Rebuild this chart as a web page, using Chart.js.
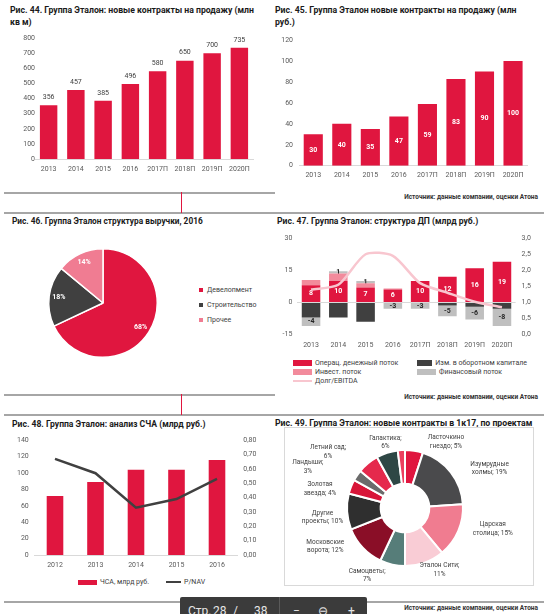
<!DOCTYPE html>
<html lang="ru">
<head>
<meta charset="utf-8">
<script src="https://cdn.jsdelivr.net/npm/chart.js@4.4.0/dist/chart.umd.min.js"></script>
<style>
  body { margin: 0; background: #fff; }
  #page { position: relative; width: 550px; height: 614px; overflow: hidden; background: #fff; font-family: Roboto, sans-serif; }
  canvas { position: absolute; }
  .title { position: absolute; font-size: 8.5px; font-weight: 700; line-height: 12px; color: #1a1a1a; white-space: nowrap; }
  .src { position: absolute; right: 12px; font-size: 6.5px; font-weight: 700; color: #333; white-space: nowrap; }
  .rule { position: absolute; height: 1.5px; background: #a6a6a6; }
  .red { position: absolute; width: 1px; background: #e0163f; }
  .frame { position: absolute; border: 1px solid #d9d9d9; }
  .legend { position: absolute; font-size: 7px; color: #404040; }
  .legend .item { display: flex; align-items: center; white-space: nowrap; }
  .legend .mark { display: inline-block; margin-right: 3px; }
  #toolbar { position: absolute; left: 180px; top: 597px; width: 187px; height: 20px; background: #3b3b3b; border-radius: 2px; color: #e6e6e6; font-size: 12px; }
  #toolbar span { position: absolute; top: 7px; }
  #toolbar .sep { top: 0; width: 1px; height: 20px; background: #5a5a5a; }
</style>
</head>
<body>
<div id="page">
  <div class="title" style="left:10px;top:4px;font-size:8.7px">Рис. 44. Группа Эталон: новые контракты на продажу (млн<br>кв м)</div>
  <div class="title" style="left:275px;top:4px;font-size:8.7px">Рис. 45. Группа Эталон новые контракты на продажу (млн<br>руб.)</div>
  <div class="title" style="left:12px;top:215px;font-size:8.3px">Рис. 46. Группа Эталон структура выручки, 2016</div>
  <div class="title" style="left:277px;top:215px;font-size:8.6px">Рис. 47. Группа Эталон: структура ДП (млрд руб.)</div>
  <div class="title" style="left:12px;top:418px;font-size:8.6px">Рис. 48. Группа Эталон: анализ СЧА (млрд руб.)</div>
  <div class="title" style="left:275px;top:417px;font-size:8.7px">Рис. 49. Группа Эталон: новые контракты в 1к17, по проектам</div>

  <div class="src" style="top:193px">Источник: данные компании, оценки Атона</div>
  <div class="src" style="top:393px">Источник: данные компании, оценки Атона</div>
  <div class="src" style="top:604px">Источник: данные компании, оценки Атона</div>

  <div class="rule" style="left:4px;top:192px;width:271px"></div>
  <div class="rule" style="left:4px;top:212px;width:540px"></div>
  <div class="rule" style="left:4px;top:394px;width:271px"></div>
  <div class="rule" style="left:4px;top:414px;width:540px"></div>
  <div class="rule" style="left:4px;top:601px;width:540px"></div>
  <div class="red" style="left:181px;top:192px;height:21px"></div>
  <div class="red" style="left:181px;top:394px;height:21px"></div>

  <div class="frame" style="left:284px;top:427px;width:248px;height:157px"></div>

  <canvas id="c44" width="270" height="160" style="left:0;top:30px"></canvas>
  <canvas id="c45" width="275" height="160" style="left:275px;top:30px"></canvas>
  <canvas id="c46" width="126" height="126" style="left:40px;top:240px"></canvas>
  <canvas id="c47" width="275" height="125" style="left:275px;top:228px"></canvas>
  <canvas id="c48" width="270" height="145" style="left:0;top:430px"></canvas>
  <canvas id="c49" width="249" height="157" style="left:284px;top:428px"></canvas>

  <div class="legend" id="lg46" style="left:199px;top:283px"></div>
  <div class="legend" id="lg47" style="left:293px;top:358px"></div>
  <div class="legend" id="lg48" style="left:78px;top:578px"></div>

  <div id="toolbar">
    <span style="left:8px">Стр.</span>
    <span style="left:33px">28</span>
    <span style="left:53px">/</span>
    <span style="left:74px">38</span>
    <span class="sep" style="left:99px"></span>
    <span style="left:113px">−</span>
    <span style="left:138px">⊖</span>
    <span style="left:168px">+</span>
  </div>
</div>

<script>
// ---- data ----
const salesYears = ['2013', '2014', '2015', '2016', '2017П', '2018П', '2019П', '2020П'];
const salesArea = [356, 457, 385, 496, 580, 650, 700, 735];
const salesRub = [30, 40, 35, 47, 59, 83, 90, 100];

const revenueSegments = ['Девелопмент', 'Строительство', 'Прочее'];
const revenueShares = [68, 18, 14];

const cfYears = ['2013', '2014', '2015', '2016', '2017П', '2018П', '2019П', '2020П'];
const cfOperating = [8, 10, 7, 6, 10, 12, 16, 19];
const cfWorkingCapital = [-7, -7, -9, 0, 0, -1.5, -2, -3];
const cfInvesting = [2.5, 3.5, 2, 0.5, 0, 0, 0, 0];
const cfFinancing = [-4, 1, 1, -3, -3, -5, -6, -8];
const debtToEbitda = [1.4, 1.55, 2.5, 2.45, 1.6, 1.3, 1.02, 0.85];

const navYears = ['2012', '2013', '2014', '2015', '2016'];
const navValues = [72, 89, 104, 104, 116];
const priceToNav = [0.67, 0.57, 0.33, 0.39, 0.53];

const projectNames = ['Ласточкино\nгнездо', 'Изумрудные\nхолмы', 'Царская\nстолица', 'Эталон Сити', 'Самоцветы',
    'Московские\nворота', 'Другие\nпроекты', 'Золотая\nзвезда', 'Ландыши', 'Летний сад', 'Галактика', ''];
const projectShares = [5, 19, 15, 11, 7, 12, 10, 4, 3, 6, 6, 2];

// ---- styles ----
const RED = '#e0163f';
const DARK = '#404040';
const PINK = '#f07c92';
const INVEST_PINK = '#f28b9c';
const LIGHT_GRAY = '#bfbfbf';
const LINE_PINK = '#f8c6cf';
const projectColors = ['#e0163f', '#4a4a4c', '#f07c90', '#f9ccd5', '#567d79', '#8a0e27',
    '#2f2f2f', '#d81538', '#6b6b6b', '#e5294c', '#2e4745', '#ec3e5e'];

Chart.defaults.font.family = 'Roboto, sans-serif';
Chart.defaults.font.size = 7;
Chart.defaults.color = '#595959';
Chart.defaults.animation = false;
Chart.defaults.responsive = false;
Chart.defaults.plugins.legend.display = false;
Chart.defaults.plugins.tooltip.enabled = false;

const decimal = digits => v => v.toFixed(digits).replace('.', ',');

function yAxis({ min, max, step, width, pad, position = 'left', fmt, zeroLine = false }) {
    return {
        position, min, max,
        grid: {
            display: zeroLine, drawTicks: false,
            color: ctx => (ctx.tick && ctx.tick.value === 0) ? '#d9d9d9' : 'rgba(0,0,0,0)'
        },
        border: { display: false },
        ticks: { stepSize: step, padding: pad, callback: fmt },
        afterFit: s => { s.width = width; }
    };
}

function xAxis(pad, showBorder = true) {
    return {
        grid: { display: false, drawTicks: false },
        border: { display: showBorder, color: '#d9d9d9' },
        ticks: { padding: pad, maxRotation: 0, autoSkip: false },
        afterFit: s => { s.height = 16; }
    };
}

// labels on bars, drawn right after each bar dataset
function barLabels(sets) {
    return {
        id: 'barLabels',
        afterDatasetDraw(chart, args) {
            const cfg = sets[args.index];
            if (!cfg) return;
            const ctx = chart.ctx;
            const values = chart.data.datasets[args.index].data;
            ctx.save();
            ctx.font = cfg.font;
            ctx.fillStyle = cfg.color;
            ctx.textAlign = 'center';
            ctx.textBaseline = 'middle';
            args.meta.data.forEach((bar, i) => {
                const v = values[i];
                if (!v) return;
                const y = cfg.above ? bar.y - cfg.above : (bar.y + bar.base) / 2;
                ctx.fillText(Math.round(v), bar.x, y);
            });
            ctx.restore();
        }
    };
}

function htmlLegend(id, items, css) {
    const box = document.getElementById(id);
    Object.assign(box.style, css.box);
    items.forEach(it => {
        const row = document.createElement('div');
        row.className = 'item';
        Object.assign(row.style, css.item);
        const m = document.createElement('span');
        m.className = 'mark';
        Object.assign(m.style, it.line ? css.line : css.mark, { background: it.color });
        row.appendChild(m);
        row.appendChild(document.createTextNode(it.label));
        box.appendChild(row);
    });
}

// ---- Рис. 44 ----
new Chart(document.getElementById('c44'), {
    type: 'bar',
    data: {
        labels: salesYears,
        datasets: [{ data: salesArea, backgroundColor: RED, barPercentage: 0.64, categoryPercentage: 1 }]
    },
    options: {
        layout: { padding: { top: 8, right: 17, bottom: 15, left: 0 } },
        scales: {
            x: xAxis(6),
            y: yAxis({ min: 0, max: 800, step: 100, width: 35, pad: 0 })
        }
    },
    plugins: [barLabels({ 0: { font: '7px Roboto', color: '#404040', above: 8 } })]
});

// ---- Рис. 45 ----
new Chart(document.getElementById('c45'), {
    type: 'bar',
    data: {
        labels: salesYears,
        datasets: [{ data: salesRub, backgroundColor: RED, barPercentage: 0.67, categoryPercentage: 1 }]
    },
    options: {
        layout: { padding: { top: 8, right: 22.7, bottom: 8.3, left: 0 } },
        scales: {
            x: xAxis(5),
            y: yAxis({ min: 0, max: 120, step: 20, width: 24, pad: 6 })
        }
    },
    plugins: [barLabels({ 0: { font: 'bold 7px Roboto', color: '#fff' } })]
});

// ---- Рис. 46 ----
const pieColors = [RED, DARK, PINK];
new Chart(document.getElementById('c46'), {
    type: 'pie',
    data: {
        labels: revenueSegments,
        datasets: [{ data: revenueShares, backgroundColor: pieColors, borderColor: '#fff', borderWidth: 1.5 }]
    },
    options: { layout: { padding: 8 } },
    plugins: [{
        id: 'pieLabels',
        afterDatasetsDraw(chart) {
            const ctx = chart.ctx;
            ctx.save();
            ctx.font = 'bold 7px Roboto';
            ctx.fillStyle = '#fff';
            ctx.textAlign = 'center';
            ctx.textBaseline = 'middle';
            chart.getDatasetMeta(0).data.forEach((arc, i) => {
                const a = (arc.startAngle + arc.endAngle) / 2;
                const r = arc.outerRadius * 0.82;
                ctx.fillText(revenueShares[i] + '%', arc.x + Math.cos(a) * r, arc.y + Math.sin(a) * r);
            });
            ctx.restore();
        }
    }]
});
htmlLegend('lg46', revenueSegments.map((s, i) => ({ label: s, color: pieColors[i] })), {
    box: {},
    item: { height: '14.7px' },
    mark: { width: '4px', height: '4px', marginRight: '4px' }
});

// ---- Рис. 47 ----
const cfSets = [
    { type: 'line', label: 'Долг/EBITDA', data: debtToEbitda, yAxisID: 'y2', borderColor: LINE_PINK, borderWidth: 2.5, pointRadius: 0, tension: 0.25 },
    { label: 'Операц. денежный поток', data: cfOperating, backgroundColor: RED },
    { label: 'Изм. в оборотном капитале', data: cfWorkingCapital, backgroundColor: DARK },
    { label: 'Инвест. поток', data: cfInvesting, backgroundColor: INVEST_PINK },
    { label: 'Финансовый поток', data: cfFinancing, backgroundColor: LIGHT_GRAY }
];
cfSets.slice(1).forEach(d => Object.assign(d, { type: 'bar', stack: 'cf', barPercentage: 0.68, categoryPercentage: 1 }));
new Chart(document.getElementById('c47'), {
    type: 'bar',
    data: { labels: cfYears, datasets: cfSets },
    options: {
        layout: { padding: { top: 9, right: 6.4, bottom: 2.5, left: 0 } },
        scales: {
            x: Object.assign(xAxis(6.5, false), { stacked: true }),
            y: Object.assign(yAxis({ min: -15, max: 30, step: 15, width: 22.4, pad: 5, zeroLine: true }), { stacked: true }),
            y2: yAxis({ min: 0, max: 3, step: 0.5, width: 28, pad: 6, position: 'right', fmt: decimal(1) })
        }
    },
    plugins: [barLabels({
        1: { font: 'bold 7px Roboto', color: '#fff' },
        4: { font: 'bold 7px Roboto', color: '#262626' }
    })]
});
htmlLegend('lg47', [cfSets[1], cfSets[2], cfSets[3], cfSets[4], cfSets[0]].map(d => ({
    label: d.label, color: d.backgroundColor || d.borderColor, line: d.type === 'line'
})), {
    box: { display: 'grid', gridTemplateColumns: '124px 110px', gridAutoRows: '9px' },
    item: {},
    mark: { width: '19px', height: '6px' },
    line: { width: '19px', height: '2px' }
});

// ---- Рис. 48 ----
const navSets = [
    { type: 'line', label: 'P/NAV', data: priceToNav, yAxisID: 'y2', borderColor: DARK, borderWidth: 2.5, pointRadius: 0, tension: 0 },
    { type: 'bar', label: 'ЧСА, млрд руб.', data: navValues, backgroundColor: RED, barPercentage: 0.41, categoryPercentage: 1 }
];
new Chart(document.getElementById('c48'), {
    type: 'bar',
    data: { labels: navYears, datasets: navSets },
    options: {
        layout: { padding: { top: 9, right: 2.75, bottom: 4, left: 0 } },
        scales: {
            x: xAxis(6),
            y: yAxis({ min: 0, max: 140, step: 20, width: 34.75, pad: 6 }),
            y2: yAxis({ min: 0, max: 0.8, step: 0.1, width: 30, pad: 6, position: 'right', fmt: decimal(2) })
        }
    }
});
htmlLegend('lg48', [navSets[1], navSets[0]].map(d => ({
    label: d.label, color: d.backgroundColor || d.borderColor, line: d.type === 'line'
})), {
    box: { display: 'flex', gap: '17px' },
    item: {},
    mark: { width: '19px', height: '5px' },
    line: { width: '15px', height: '2.5px' }
});

// ---- Рис. 49 ----
// label nudges (px) relative to an ellipse around the ring
const donutNudge = [[26, 1], [9, 2], [0, -6], [2, -2], [-17, 1], [-10, -8], [13, 5], [4, 6], [-18, -3], [-16, -4], [10, -1], [0, 0]];
new Chart(document.getElementById('c49'), {
    type: 'doughnut',
    data: {
        labels: projectNames,
        datasets: [{ data: projectShares, backgroundColor: projectColors, borderColor: '#fff', borderWidth: 2 }]
    },
    options: {
        cutout: '42%',
        layout: { padding: { left: 62, right: 69, top: 21, bottom: 18 } }
    },
    plugins: [{
        id: 'donutLabels',
        afterDatasetsDraw(chart) {
            const ctx = chart.ctx;
            ctx.save();
            ctx.font = '6.5px Roboto';
            ctx.fillStyle = '#404040';
            ctx.textAlign = 'center';
            ctx.textBaseline = 'middle';
            chart.getDatasetMeta(0).data.forEach((arc, i) => {
                const name = projectNames[i];
                if (!name) return;
                const text = name.includes('\n') ? name + '; ' + projectShares[i] + '%' : name + ';\n' + projectShares[i] + '%';
                const lines = text.split('\n');
                const a = (arc.startAngle + arc.endAngle) / 2;
                const x = arc.x + Math.cos(a) * arc.outerRadius * 1.65 + donutNudge[i][0];
                const y = arc.y + Math.sin(a) * arc.outerRadius * 1.17 + donutNudge[i][1];
                lines.forEach((ln, k) => ctx.fillText(ln, x, y + (k - (lines.length - 1) / 2) * 8.5));
            });
            ctx.restore();
        }
    }]
});
</script>
</body>
</html>
